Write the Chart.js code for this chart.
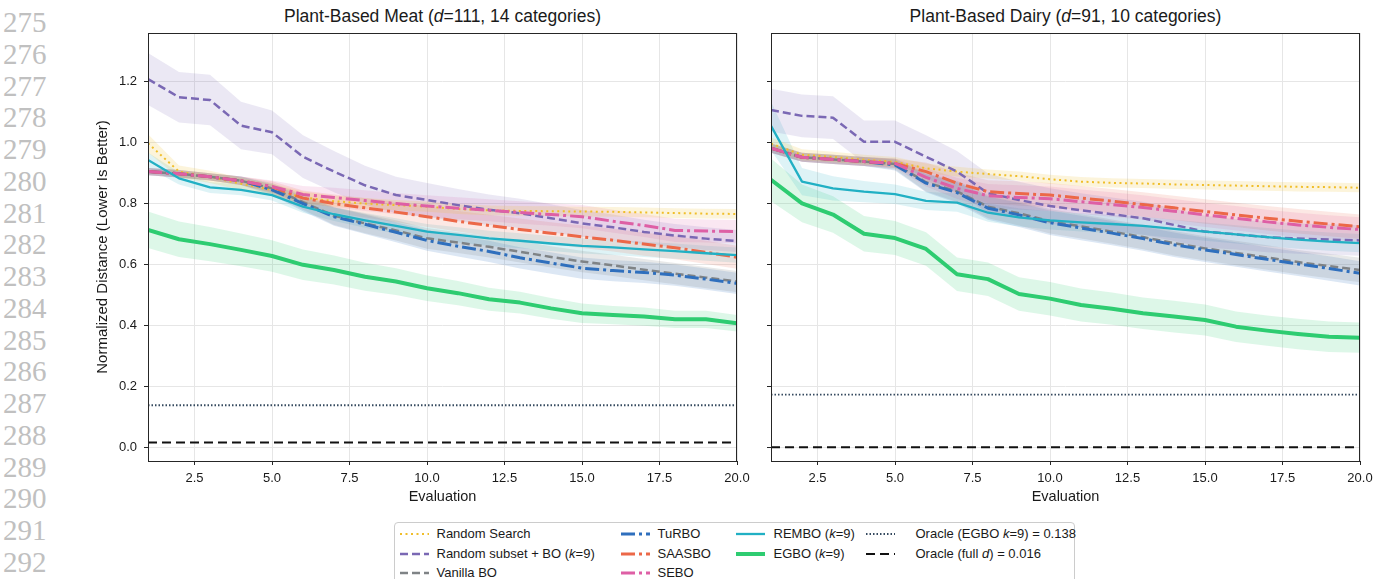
<!DOCTYPE html>
<html>
<head>
<meta charset="utf-8">
<script src="https://cdn.jsdelivr.net/npm/chart.js@4.4.0/dist/chart.umd.min.js"></script>
<style>
  body { margin: 0; background: #fff; width: 1375px; height: 579px; overflow: hidden; position: relative;
         font-family: 'Liberation Sans', Arial, sans-serif; color: #1a1a1a; }
  .lnum { position: absolute; left: 3px; font-family: 'Liberation Serif', 'DejaVu Serif', serif;
          font-size: 29px; line-height: 30px; color: #c0c0c0; }
  .ptitle { position: absolute; top: 6px; font-size: 17.5px; line-height: 20px; white-space: nowrap;
            transform: translateX(-50%); }
  canvas { position: absolute; top: 0; }
  #legend { position: absolute; left: 394px; top: 522px; width: 681px; height: 80px;
            border: 1px solid #cccccc; border-radius: 4px; box-sizing: border-box; }
  .litem { position: absolute; font-size: 13px; line-height: 16px; white-space: nowrap; }
  .lsample { position: absolute; }
</style>
</head>
<body>
<div id="lineNums"></div>
<div class="ptitle" style="left:442.5px">Plant-Based Meat (<i>d</i>=111, 14 categories)</div>
<div class="ptitle" style="left:1065.5px">Plant-Based Dairy (<i>d</i>=91, 10 categories)</div>
<canvas id="meatChart" width="692" height="522" style="left:60px"></canvas>
<canvas id="dairyChart" width="623" height="522" style="left:752px"></canvas>
<div id="legend"></div>
<script>
// x 軸與刻度
const evals = [1, 2, 3, 4, 5, 6, 7, 8, 9, 10, 11, 12, 13, 14, 15, 16, 17, 18, 19, 20];
const xTicks = [2.5, 5, 7.5, 10, 12.5, 15, 17.5, 20];
const yTicks = [0, 0.2, 0.4, 0.6, 0.8, 1.0, 1.2];

// Plant-Based Meat 平均值
const meatRandom  = [0.998, 0.905, 0.888, 0.865, 0.845, 0.82, 0.808, 0.80, 0.795, 0.79, 0.782, 0.778, 0.776, 0.775, 0.774, 0.773, 0.771, 0.769, 0.767, 0.766];
const meatSubset  = [1.209, 1.149, 1.14, 1.056, 1.034, 0.954, 0.905, 0.86, 0.828, 0.812, 0.795, 0.78, 0.768, 0.752, 0.735, 0.722, 0.707, 0.695, 0.685, 0.677];
const meatVanilla = [0.905, 0.898, 0.888, 0.875, 0.85, 0.805, 0.76, 0.735, 0.712, 0.686, 0.672, 0.658, 0.642, 0.625, 0.61, 0.597, 0.583, 0.57, 0.557, 0.544];
const meatTurbo   = [0.905, 0.898, 0.888, 0.875, 0.845, 0.80, 0.757, 0.732, 0.706, 0.679, 0.66, 0.643, 0.622, 0.605, 0.588, 0.58, 0.574, 0.565, 0.552, 0.538];
const meatSaas    = [0.905, 0.898, 0.888, 0.875, 0.855, 0.818, 0.80, 0.786, 0.772, 0.757, 0.742, 0.728, 0.715, 0.703, 0.691, 0.68, 0.667, 0.655, 0.64, 0.624];
const meatSebo    = [0.905, 0.898, 0.888, 0.875, 0.856, 0.83, 0.82, 0.81, 0.80, 0.792, 0.785, 0.778, 0.771, 0.764, 0.757, 0.742, 0.728, 0.712, 0.71, 0.708];
const meatRembo   = [0.943, 0.883, 0.853, 0.845, 0.828, 0.79, 0.765, 0.745, 0.727, 0.708, 0.697, 0.686, 0.678, 0.669, 0.661, 0.656, 0.65, 0.644, 0.637, 0.631];
const meatEgbo    = [0.714, 0.683, 0.667, 0.648, 0.628, 0.599, 0.582, 0.56, 0.544, 0.522, 0.506, 0.486, 0.475, 0.456, 0.44, 0.434, 0.429, 0.42, 0.42, 0.407];
// Plant-Based Meat 誤差帶 (±)
const meatRandomErr  = [0.03, 0.02, 0.02, 0.02, 0.02, 0.02, 0.018, 0.018, 0.017, 0.017, 0.016, 0.016, 0.016, 0.016, 0.016, 0.016, 0.016, 0.016, 0.016, 0.016];
const meatSubsetErr  = [0.085, 0.083, 0.083, 0.078, 0.072, 0.07, 0.068, 0.064, 0.06, 0.056, 0.053, 0.05, 0.048, 0.046, 0.044, 0.042, 0.04, 0.038, 0.037, 0.036];
const meatVanillaErr = [0.012, 0.012, 0.012, 0.014, 0.018, 0.025, 0.03, 0.032, 0.033, 0.034, 0.034, 0.035, 0.035, 0.035, 0.035, 0.035, 0.035, 0.035, 0.035, 0.035];
const meatTurboErr   = [0.012, 0.012, 0.012, 0.014, 0.018, 0.025, 0.03, 0.032, 0.033, 0.034, 0.034, 0.035, 0.035, 0.035, 0.035, 0.035, 0.035, 0.035, 0.035, 0.035];
const meatSaasErr    = [0.012, 0.012, 0.012, 0.014, 0.018, 0.025, 0.03, 0.032, 0.033, 0.034, 0.034, 0.035, 0.036, 0.036, 0.037, 0.037, 0.038, 0.038, 0.038, 0.038];
const meatSeboErr    = [0.012, 0.012, 0.012, 0.014, 0.02, 0.028, 0.032, 0.034, 0.035, 0.035, 0.036, 0.036, 0.037, 0.037, 0.038, 0.038, 0.038, 0.038, 0.038, 0.038];
const meatRemboErr   = [0.025, 0.02, 0.018, 0.018, 0.018, 0.02, 0.022, 0.024, 0.025, 0.025, 0.025, 0.025, 0.025, 0.025, 0.025, 0.025, 0.025, 0.025, 0.025, 0.025];
const meatEgboErr    = [0.06, 0.058, 0.056, 0.054, 0.052, 0.05, 0.048, 0.046, 0.044, 0.042, 0.04, 0.038, 0.036, 0.034, 0.032, 0.03, 0.03, 0.028, 0.028, 0.027];
const meatOracleEgbo = 0.138;
const meatOracleFull = 0.016;

// Plant-Based Dairy 平均值
const dairyRandom  = [0.997, 0.96, 0.953, 0.944, 0.937, 0.916, 0.905, 0.897, 0.89, 0.88, 0.872, 0.868, 0.866, 0.863, 0.861, 0.859, 0.857, 0.855, 0.854, 0.852];
const dairySubset  = [1.107, 1.088, 1.082, 1.003, 1.003, 0.954, 0.905, 0.834, 0.812, 0.792, 0.778, 0.765, 0.752, 0.73, 0.708, 0.699, 0.69, 0.685, 0.682, 0.679];
const dairyVanilla = [0.982, 0.952, 0.945, 0.938, 0.93, 0.87, 0.84, 0.79, 0.768, 0.742, 0.725, 0.708, 0.69, 0.67, 0.653, 0.638, 0.623, 0.608, 0.595, 0.582];
const dairyTurbo   = [0.982, 0.952, 0.945, 0.938, 0.927, 0.867, 0.836, 0.785, 0.763, 0.737, 0.72, 0.703, 0.685, 0.665, 0.648, 0.633, 0.617, 0.602, 0.587, 0.571];
const dairySaas    = [0.982, 0.952, 0.945, 0.938, 0.932, 0.905, 0.867, 0.839, 0.833, 0.828, 0.818, 0.808, 0.797, 0.786, 0.774, 0.763, 0.752, 0.742, 0.733, 0.724];
const dairySebo    = [0.982, 0.952, 0.945, 0.938, 0.932, 0.886, 0.85, 0.826, 0.82, 0.816, 0.806, 0.797, 0.787, 0.775, 0.763, 0.752, 0.74, 0.73, 0.722, 0.715];
const dairyRembo   = [1.055, 0.872, 0.85, 0.839, 0.831, 0.809, 0.803, 0.77, 0.755, 0.745, 0.738, 0.733, 0.727, 0.717, 0.708, 0.699, 0.69, 0.682, 0.675, 0.67];
const dairyEgbo    = [0.878, 0.801, 0.764, 0.701, 0.687, 0.651, 0.568, 0.552, 0.503, 0.488, 0.467, 0.455, 0.44, 0.429, 0.418, 0.396, 0.383, 0.372, 0.363, 0.36];
// Plant-Based Dairy 誤差帶 (±)
const dairyRandomErr  = [0.02, 0.018, 0.017, 0.016, 0.016, 0.016, 0.016, 0.015, 0.015, 0.015, 0.015, 0.015, 0.015, 0.015, 0.015, 0.015, 0.015, 0.015, 0.015, 0.015];
const dairySubsetErr  = [0.07, 0.07, 0.07, 0.07, 0.07, 0.07, 0.068, 0.065, 0.06, 0.058, 0.056, 0.055, 0.054, 0.053, 0.052, 0.05, 0.05, 0.05, 0.05, 0.05];
const dairyVanillaErr = [0.015, 0.015, 0.015, 0.015, 0.018, 0.03, 0.035, 0.038, 0.04, 0.04, 0.04, 0.04, 0.04, 0.04, 0.04, 0.04, 0.04, 0.04, 0.04, 0.04];
const dairyTurboErr   = [0.015, 0.015, 0.015, 0.015, 0.018, 0.03, 0.035, 0.038, 0.04, 0.04, 0.04, 0.04, 0.04, 0.04, 0.04, 0.04, 0.04, 0.04, 0.04, 0.04];
const dairySaasErr    = [0.015, 0.015, 0.015, 0.015, 0.015, 0.03, 0.035, 0.038, 0.04, 0.04, 0.04, 0.04, 0.04, 0.04, 0.04, 0.04, 0.04, 0.04, 0.04, 0.04];
const dairySeboErr    = [0.015, 0.015, 0.015, 0.015, 0.015, 0.03, 0.035, 0.038, 0.04, 0.04, 0.04, 0.04, 0.04, 0.04, 0.04, 0.04, 0.04, 0.04, 0.04, 0.04];
const dairyRemboErr   = [0.08, 0.045, 0.04, 0.035, 0.032, 0.03, 0.03, 0.03, 0.03, 0.03, 0.03, 0.03, 0.03, 0.03, 0.03, 0.03, 0.03, 0.03, 0.03, 0.03];
const dairyEgboErr    = [0.07, 0.062, 0.06, 0.058, 0.056, 0.055, 0.055, 0.055, 0.055, 0.055, 0.054, 0.053, 0.052, 0.052, 0.051, 0.05, 0.05, 0.05, 0.05, 0.05];
const dairyOracleEgbo = 0.173;
const dairyOracleFull = 0.0;

// 方法樣式
const methods = [
  { name: 'Random Search', color: '#f0be2a', band: 'rgba(240,190,42,0.17)', width: 2, dash: [2, 3.5] },
  { name: 'Random subset + BO (<i>k</i>=9)', color: '#7a68b4', band: 'rgba(122,104,180,0.15)', width: 2.5, dash: [8, 4] },
  { name: 'Vanilla BO', color: '#7f8386', band: 'rgba(127,131,134,0.18)', width: 2.5, dash: [8, 4] },
  { name: 'TuRBO', color: '#2f6fbd', band: 'rgba(47,111,189,0.17)', width: 3, dash: [14, 4, 3, 4] },
  { name: 'SAASBO', color: '#ec6848', band: 'rgba(236,104,72,0.15)', width: 3, dash: [14, 4, 3, 4] },
  { name: 'SEBO', color: '#de5fa5', band: 'rgba(222,95,165,0.15)', width: 3, dash: [14, 4, 3, 4] },
  { name: 'REMBO (<i>k</i>=9)', color: '#21b0c4', band: 'rgba(33,176,196,0.15)', width: 2.3, dash: [] },
  { name: 'EGBO (<i>k</i>=9)', color: '#2ecc71', band: 'rgba(46,204,113,0.16)', width: 4, dash: [] }
];
const oracleStyles = [
  { name: 'Oracle (EGBO <i>k</i>=9) = 0.138', color: '#34495e', width: 1.8, dash: [1.5, 2] },
  { name: 'Oracle (full <i>d</i>) = 0.016', color: '#111111', width: 2, dash: [9, 5] }
];

const meatSeries = [
  [meatRandom, meatRandomErr], [meatSubset, meatSubsetErr], [meatVanilla, meatVanillaErr], [meatTurbo, meatTurboErr],
  [meatSaas, meatSaasErr], [meatSebo, meatSeboErr], [meatRembo, meatRemboErr], [meatEgbo, meatEgboErr]
];
const dairySeries = [
  [dairyRandom, dairyRandomErr], [dairySubset, dairySubsetErr], [dairyVanilla, dairyVanillaErr], [dairyTurbo, dairyTurboErr],
  [dairySaas, dairySaasErr], [dairySebo, dairySeboErr], [dairyRembo, dairyRemboErr], [dairyEgbo, dairyEgboErr]
];

// 建立資料集: 先畫誤差帶, 再畫線
function buildDatasets(series, oracles) {
  const datasets = [];
  methods.forEach((m, i) => {
    const mean = series[i][0], err = series[i][1];
    const lowerIdx = datasets.length;
    datasets.push({
      data: evals.map((x, j) => ({ x, y: mean[j] - err[j] })),
      borderColor: 'transparent', borderWidth: 0, pointRadius: 0, fill: false, order: 100
    });
    datasets.push({
      data: evals.map((x, j) => ({ x, y: mean[j] + err[j] })),
      borderColor: 'transparent', borderWidth: 0, pointRadius: 0, fill: lowerIdx,
      backgroundColor: m.band, order: 100
    });
  });
  methods.forEach((m, i) => {
    datasets.push({
      data: evals.map((x, j) => ({ x, y: series[i][0][j] })),
      borderColor: m.color, borderWidth: m.width, borderDash: m.dash,
      borderCapStyle: 'butt', borderJoinStyle: 'round',
      pointRadius: 0, fill: false, order: 20 - i
    });
  });
  oracleStyles.forEach((o, i) => {
    datasets.push({
      data: [{ x: evals[0], y: oracles[i] }, { x: evals[evals.length - 1], y: oracles[i] }],
      borderColor: o.color, borderWidth: o.width, borderDash: o.dash,
      borderCapStyle: 'butt', pointRadius: 0, fill: false, order: 5 - i
    });
  });
  return datasets;
}

// 外框 (matplotlib 四邊框線)
const framePlugin = {
  id: 'frame',
  afterDatasetsDraw(chart) {
    const { ctx, chartArea: a } = chart;
    ctx.save();
    ctx.strokeStyle = '#262626';
    ctx.lineWidth = 1;
    ctx.setLineDash([]);
    ctx.strokeRect(a.left + 0.5, a.top + 0.5, a.right - a.left - 1, a.bottom - a.top);
    ctx.restore();
  }
};

function makeOptions(yWidth, showYLabels) {
  const grid = { color: '#e6e6e6', lineWidth: 1, tickColor: '#262626', tickLength: 4 };
  return {
    responsive: false,
    animation: false,
    devicePixelRatio: 1,
    layout: { padding: { top: 33, right: 15, bottom: 0, left: 0 } },
    plugins: { legend: { display: false }, tooltip: { enabled: false } },
    elements: { line: { tension: 0 } },
    scales: {
      x: {
        type: 'linear', min: 1, max: 20,
        afterBuildTicks: s => { s.ticks = xTicks.map(v => ({ value: v })); },
        afterFit: s => { s.height = 61; s.paddingLeft = 0; s.paddingRight = 0; },
        grid: grid,
        border: { display: false },
        ticks: { padding: 5.5, color: '#1a1a1a', font: { family: 'Liberation Sans', size: 13 },
                 callback: v => v.toFixed(1) },
        title: { display: true, text: 'Evaluation', color: '#1a1a1a',
                 font: { family: 'Liberation Sans', size: 14.5 }, padding: { top: 0, bottom: 16 } }
      },
      y: {
        type: 'linear', min: -0.045, max: 1.36,
        afterBuildTicks: s => { s.ticks = yTicks.map(v => ({ value: v })); },
        afterFit: s => { s.width = yWidth; s.paddingTop = 0; s.paddingBottom = 0; },
        grid: grid,
        border: { display: false },
        ticks: { padding: 7, color: '#1a1a1a', font: { family: 'Liberation Sans', size: 13 },
                 callback: v => showYLabels ? v.toFixed(1) : '' },
        title: { display: showYLabels, text: 'Normalized Distance (Lower Is Better)', color: '#1a1a1a',
                 font: { family: 'Liberation Sans', size: 15 }, padding: { top: 34, bottom: 0 } }
      }
    }
  };
}

new Chart(document.getElementById('meatChart'), {
  type: 'line',
  data: { datasets: buildDatasets(meatSeries, [meatOracleEgbo, meatOracleFull]) },
  options: makeOptions(88, true),
  plugins: [framePlugin]
});

new Chart(document.getElementById('dairyChart'), {
  type: 'line',
  data: { datasets: buildDatasets(dairySeries, [dairyOracleEgbo, dairyOracleFull]) },
  options: makeOptions(19, false),
  plugins: [framePlugin]
});

// 行號
const lineNums = document.getElementById('lineNums');
for (let i = 0; i < 18; i++) {
  const d = document.createElement('div');
  d.className = 'lnum';
  d.style.top = (22 + i * 31.76 - 15) + 'px';
  d.innerText = 275 + i;
  lineNums.appendChild(d);
}

// 圖例 (四欄, 先直後橫)
const legend = document.getElementById('legend');
const legendItems = methods.concat(oracleStyles);
const colSample = [4.5, 226, 341, 471];
const colText = [41.5, 262.5, 378.5, 520.5];
const rowY = [11, 30.5, 49.5];
const colOf = [0, 0, 0, 1, 1, 1, 2, 2, 3, 3];
const rowOf = [0, 1, 2, 0, 1, 2, 0, 1, 0, 1];
legendItems.forEach((item, i) => {
  const c = colOf[i], r = rowOf[i];
  const svg = `<svg class="lsample" width="30" height="10" style="left:${colSample[c]}px;top:${rowY[r] - 5}px">
    <line x1="0" y1="5" x2="29" y2="5" stroke="${item.color}" stroke-width="${item.width}"
      stroke-dasharray="${item.dash.length ? item.dash.join(' ') : 'none'}"/></svg>`;
  legend.insertAdjacentHTML('beforeend', svg);
  const t = document.createElement('div');
  t.className = 'litem';
  t.style.left = colText[c] + 'px';
  t.style.top = (rowY[r] - 8) + 'px';
  t.innerHTML = item.name;
  legend.appendChild(t);
});
</script>
</body>
</html>
